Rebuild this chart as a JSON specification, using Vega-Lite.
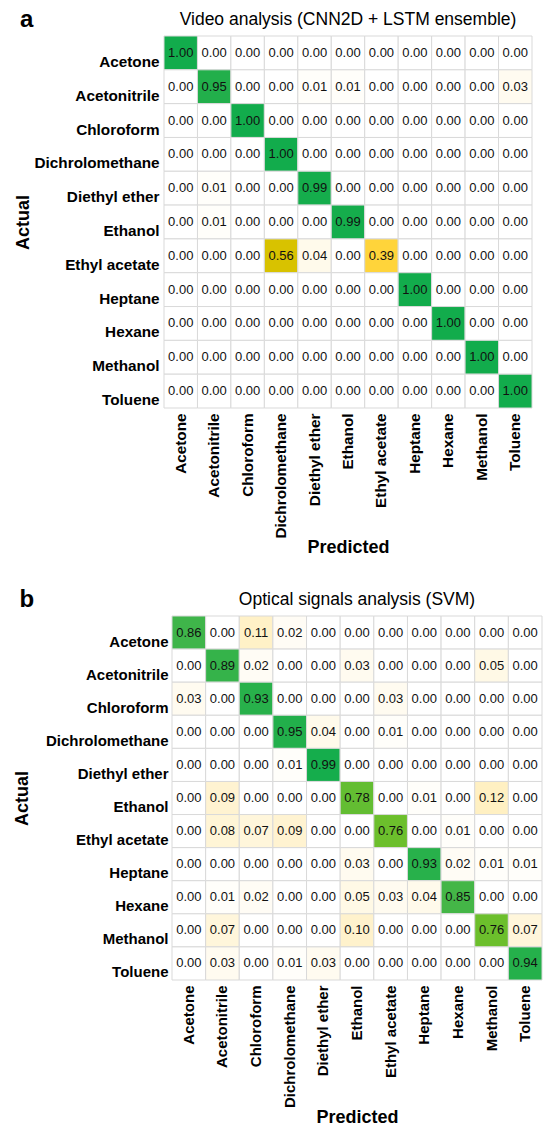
{
  "$schema": "https://vega.github.io/schema/vega-lite/v6.json",
  "background": "white",
  "padding": {"left": 13, "top": 8, "right": 3, "bottom": 2},
  "config": {
    "view": {"stroke": null},
    "font": "Liberation Sans",
    "axis": {"domain": false, "ticks": false, "grid": false, "labelFont": "Liberation Sans", "labelFontWeight": "bold", "labelFontSize": 15.3, "labelColor": "black", "titleFont": "Liberation Sans", "titleFontSize": 18, "titleFontWeight": "bold", "titleColor": "black", "labelPadding": 5},
    "title": {"font": "Liberation Sans", "color": "black"}
  },
  "datasets": {
    "m": [
      {"p":"a","actual":"Acetone","predicted":"Acetone","v":1.00},{"p":"a","actual":"Acetone","predicted":"Acetonitrile","v":0},{"p":"a","actual":"Acetone","predicted":"Chloroform","v":0},{"p":"a","actual":"Acetone","predicted":"Dichrolomethane","v":0},{"p":"a","actual":"Acetone","predicted":"Diethyl ether","v":0},{"p":"a","actual":"Acetone","predicted":"Ethanol","v":0},{"p":"a","actual":"Acetone","predicted":"Ethyl acetate","v":0},{"p":"a","actual":"Acetone","predicted":"Heptane","v":0},{"p":"a","actual":"Acetone","predicted":"Hexane","v":0},{"p":"a","actual":"Acetone","predicted":"Methanol","v":0},{"p":"a","actual":"Acetone","predicted":"Toluene","v":0},
      {"p":"a","actual":"Acetonitrile","predicted":"Acetone","v":0},{"p":"a","actual":"Acetonitrile","predicted":"Acetonitrile","v":0.95},{"p":"a","actual":"Acetonitrile","predicted":"Chloroform","v":0},{"p":"a","actual":"Acetonitrile","predicted":"Dichrolomethane","v":0},{"p":"a","actual":"Acetonitrile","predicted":"Diethyl ether","v":0.01},{"p":"a","actual":"Acetonitrile","predicted":"Ethanol","v":0.01},{"p":"a","actual":"Acetonitrile","predicted":"Ethyl acetate","v":0},{"p":"a","actual":"Acetonitrile","predicted":"Heptane","v":0},{"p":"a","actual":"Acetonitrile","predicted":"Hexane","v":0},{"p":"a","actual":"Acetonitrile","predicted":"Methanol","v":0},{"p":"a","actual":"Acetonitrile","predicted":"Toluene","v":0.03},
      {"p":"a","actual":"Chloroform","predicted":"Acetone","v":0},{"p":"a","actual":"Chloroform","predicted":"Acetonitrile","v":0},{"p":"a","actual":"Chloroform","predicted":"Chloroform","v":1.00},{"p":"a","actual":"Chloroform","predicted":"Dichrolomethane","v":0},{"p":"a","actual":"Chloroform","predicted":"Diethyl ether","v":0},{"p":"a","actual":"Chloroform","predicted":"Ethanol","v":0},{"p":"a","actual":"Chloroform","predicted":"Ethyl acetate","v":0},{"p":"a","actual":"Chloroform","predicted":"Heptane","v":0},{"p":"a","actual":"Chloroform","predicted":"Hexane","v":0},{"p":"a","actual":"Chloroform","predicted":"Methanol","v":0},{"p":"a","actual":"Chloroform","predicted":"Toluene","v":0},
      {"p":"a","actual":"Dichrolomethane","predicted":"Acetone","v":0},{"p":"a","actual":"Dichrolomethane","predicted":"Acetonitrile","v":0},{"p":"a","actual":"Dichrolomethane","predicted":"Chloroform","v":0},{"p":"a","actual":"Dichrolomethane","predicted":"Dichrolomethane","v":1.00},{"p":"a","actual":"Dichrolomethane","predicted":"Diethyl ether","v":0},{"p":"a","actual":"Dichrolomethane","predicted":"Ethanol","v":0},{"p":"a","actual":"Dichrolomethane","predicted":"Ethyl acetate","v":0},{"p":"a","actual":"Dichrolomethane","predicted":"Heptane","v":0},{"p":"a","actual":"Dichrolomethane","predicted":"Hexane","v":0},{"p":"a","actual":"Dichrolomethane","predicted":"Methanol","v":0},{"p":"a","actual":"Dichrolomethane","predicted":"Toluene","v":0},
      {"p":"a","actual":"Diethyl ether","predicted":"Acetone","v":0},{"p":"a","actual":"Diethyl ether","predicted":"Acetonitrile","v":0.01},{"p":"a","actual":"Diethyl ether","predicted":"Chloroform","v":0},{"p":"a","actual":"Diethyl ether","predicted":"Dichrolomethane","v":0},{"p":"a","actual":"Diethyl ether","predicted":"Diethyl ether","v":0.99},{"p":"a","actual":"Diethyl ether","predicted":"Ethanol","v":0},{"p":"a","actual":"Diethyl ether","predicted":"Ethyl acetate","v":0},{"p":"a","actual":"Diethyl ether","predicted":"Heptane","v":0},{"p":"a","actual":"Diethyl ether","predicted":"Hexane","v":0},{"p":"a","actual":"Diethyl ether","predicted":"Methanol","v":0},{"p":"a","actual":"Diethyl ether","predicted":"Toluene","v":0},
      {"p":"a","actual":"Ethanol","predicted":"Acetone","v":0},{"p":"a","actual":"Ethanol","predicted":"Acetonitrile","v":0.01},{"p":"a","actual":"Ethanol","predicted":"Chloroform","v":0},{"p":"a","actual":"Ethanol","predicted":"Dichrolomethane","v":0},{"p":"a","actual":"Ethanol","predicted":"Diethyl ether","v":0},{"p":"a","actual":"Ethanol","predicted":"Ethanol","v":0.99},{"p":"a","actual":"Ethanol","predicted":"Ethyl acetate","v":0},{"p":"a","actual":"Ethanol","predicted":"Heptane","v":0},{"p":"a","actual":"Ethanol","predicted":"Hexane","v":0},{"p":"a","actual":"Ethanol","predicted":"Methanol","v":0},{"p":"a","actual":"Ethanol","predicted":"Toluene","v":0},
      {"p":"a","actual":"Ethyl acetate","predicted":"Acetone","v":0},{"p":"a","actual":"Ethyl acetate","predicted":"Acetonitrile","v":0},{"p":"a","actual":"Ethyl acetate","predicted":"Chloroform","v":0},{"p":"a","actual":"Ethyl acetate","predicted":"Dichrolomethane","v":0.56},{"p":"a","actual":"Ethyl acetate","predicted":"Diethyl ether","v":0.04},{"p":"a","actual":"Ethyl acetate","predicted":"Ethanol","v":0},{"p":"a","actual":"Ethyl acetate","predicted":"Ethyl acetate","v":0.39},{"p":"a","actual":"Ethyl acetate","predicted":"Heptane","v":0},{"p":"a","actual":"Ethyl acetate","predicted":"Hexane","v":0},{"p":"a","actual":"Ethyl acetate","predicted":"Methanol","v":0},{"p":"a","actual":"Ethyl acetate","predicted":"Toluene","v":0},
      {"p":"a","actual":"Heptane","predicted":"Acetone","v":0},{"p":"a","actual":"Heptane","predicted":"Acetonitrile","v":0},{"p":"a","actual":"Heptane","predicted":"Chloroform","v":0},{"p":"a","actual":"Heptane","predicted":"Dichrolomethane","v":0},{"p":"a","actual":"Heptane","predicted":"Diethyl ether","v":0},{"p":"a","actual":"Heptane","predicted":"Ethanol","v":0},{"p":"a","actual":"Heptane","predicted":"Ethyl acetate","v":0},{"p":"a","actual":"Heptane","predicted":"Heptane","v":1.00},{"p":"a","actual":"Heptane","predicted":"Hexane","v":0},{"p":"a","actual":"Heptane","predicted":"Methanol","v":0},{"p":"a","actual":"Heptane","predicted":"Toluene","v":0},
      {"p":"a","actual":"Hexane","predicted":"Acetone","v":0},{"p":"a","actual":"Hexane","predicted":"Acetonitrile","v":0},{"p":"a","actual":"Hexane","predicted":"Chloroform","v":0},{"p":"a","actual":"Hexane","predicted":"Dichrolomethane","v":0},{"p":"a","actual":"Hexane","predicted":"Diethyl ether","v":0},{"p":"a","actual":"Hexane","predicted":"Ethanol","v":0},{"p":"a","actual":"Hexane","predicted":"Ethyl acetate","v":0},{"p":"a","actual":"Hexane","predicted":"Heptane","v":0},{"p":"a","actual":"Hexane","predicted":"Hexane","v":1.00},{"p":"a","actual":"Hexane","predicted":"Methanol","v":0},{"p":"a","actual":"Hexane","predicted":"Toluene","v":0},
      {"p":"a","actual":"Methanol","predicted":"Acetone","v":0},{"p":"a","actual":"Methanol","predicted":"Acetonitrile","v":0},{"p":"a","actual":"Methanol","predicted":"Chloroform","v":0},{"p":"a","actual":"Methanol","predicted":"Dichrolomethane","v":0},{"p":"a","actual":"Methanol","predicted":"Diethyl ether","v":0},{"p":"a","actual":"Methanol","predicted":"Ethanol","v":0},{"p":"a","actual":"Methanol","predicted":"Ethyl acetate","v":0},{"p":"a","actual":"Methanol","predicted":"Heptane","v":0},{"p":"a","actual":"Methanol","predicted":"Hexane","v":0},{"p":"a","actual":"Methanol","predicted":"Methanol","v":1.00},{"p":"a","actual":"Methanol","predicted":"Toluene","v":0},
      {"p":"a","actual":"Toluene","predicted":"Acetone","v":0},{"p":"a","actual":"Toluene","predicted":"Acetonitrile","v":0},{"p":"a","actual":"Toluene","predicted":"Chloroform","v":0},{"p":"a","actual":"Toluene","predicted":"Dichrolomethane","v":0},{"p":"a","actual":"Toluene","predicted":"Diethyl ether","v":0},{"p":"a","actual":"Toluene","predicted":"Ethanol","v":0},{"p":"a","actual":"Toluene","predicted":"Ethyl acetate","v":0},{"p":"a","actual":"Toluene","predicted":"Heptane","v":0},{"p":"a","actual":"Toluene","predicted":"Hexane","v":0},{"p":"a","actual":"Toluene","predicted":"Methanol","v":0},{"p":"a","actual":"Toluene","predicted":"Toluene","v":1.00},

      {"p":"b","actual":"Acetone","predicted":"Acetone","v":0.86},{"p":"b","actual":"Acetone","predicted":"Acetonitrile","v":0},{"p":"b","actual":"Acetone","predicted":"Chloroform","v":0.11},{"p":"b","actual":"Acetone","predicted":"Dichrolomethane","v":0.02},{"p":"b","actual":"Acetone","predicted":"Diethyl ether","v":0},{"p":"b","actual":"Acetone","predicted":"Ethanol","v":0},{"p":"b","actual":"Acetone","predicted":"Ethyl acetate","v":0},{"p":"b","actual":"Acetone","predicted":"Heptane","v":0},{"p":"b","actual":"Acetone","predicted":"Hexane","v":0},{"p":"b","actual":"Acetone","predicted":"Methanol","v":0},{"p":"b","actual":"Acetone","predicted":"Toluene","v":0},
      {"p":"b","actual":"Acetonitrile","predicted":"Acetone","v":0},{"p":"b","actual":"Acetonitrile","predicted":"Acetonitrile","v":0.89},{"p":"b","actual":"Acetonitrile","predicted":"Chloroform","v":0.02},{"p":"b","actual":"Acetonitrile","predicted":"Dichrolomethane","v":0},{"p":"b","actual":"Acetonitrile","predicted":"Diethyl ether","v":0},{"p":"b","actual":"Acetonitrile","predicted":"Ethanol","v":0.03},{"p":"b","actual":"Acetonitrile","predicted":"Ethyl acetate","v":0},{"p":"b","actual":"Acetonitrile","predicted":"Heptane","v":0},{"p":"b","actual":"Acetonitrile","predicted":"Hexane","v":0},{"p":"b","actual":"Acetonitrile","predicted":"Methanol","v":0.05},{"p":"b","actual":"Acetonitrile","predicted":"Toluene","v":0},
      {"p":"b","actual":"Chloroform","predicted":"Acetone","v":0.03},{"p":"b","actual":"Chloroform","predicted":"Acetonitrile","v":0},{"p":"b","actual":"Chloroform","predicted":"Chloroform","v":0.93},{"p":"b","actual":"Chloroform","predicted":"Dichrolomethane","v":0},{"p":"b","actual":"Chloroform","predicted":"Diethyl ether","v":0},{"p":"b","actual":"Chloroform","predicted":"Ethanol","v":0},{"p":"b","actual":"Chloroform","predicted":"Ethyl acetate","v":0.03},{"p":"b","actual":"Chloroform","predicted":"Heptane","v":0},{"p":"b","actual":"Chloroform","predicted":"Hexane","v":0},{"p":"b","actual":"Chloroform","predicted":"Methanol","v":0},{"p":"b","actual":"Chloroform","predicted":"Toluene","v":0},
      {"p":"b","actual":"Dichrolomethane","predicted":"Acetone","v":0},{"p":"b","actual":"Dichrolomethane","predicted":"Acetonitrile","v":0},{"p":"b","actual":"Dichrolomethane","predicted":"Chloroform","v":0},{"p":"b","actual":"Dichrolomethane","predicted":"Dichrolomethane","v":0.95},{"p":"b","actual":"Dichrolomethane","predicted":"Diethyl ether","v":0.04},{"p":"b","actual":"Dichrolomethane","predicted":"Ethanol","v":0},{"p":"b","actual":"Dichrolomethane","predicted":"Ethyl acetate","v":0.01},{"p":"b","actual":"Dichrolomethane","predicted":"Heptane","v":0},{"p":"b","actual":"Dichrolomethane","predicted":"Hexane","v":0},{"p":"b","actual":"Dichrolomethane","predicted":"Methanol","v":0},{"p":"b","actual":"Dichrolomethane","predicted":"Toluene","v":0},
      {"p":"b","actual":"Diethyl ether","predicted":"Acetone","v":0},{"p":"b","actual":"Diethyl ether","predicted":"Acetonitrile","v":0},{"p":"b","actual":"Diethyl ether","predicted":"Chloroform","v":0},{"p":"b","actual":"Diethyl ether","predicted":"Dichrolomethane","v":0.01},{"p":"b","actual":"Diethyl ether","predicted":"Diethyl ether","v":0.99},{"p":"b","actual":"Diethyl ether","predicted":"Ethanol","v":0},{"p":"b","actual":"Diethyl ether","predicted":"Ethyl acetate","v":0},{"p":"b","actual":"Diethyl ether","predicted":"Heptane","v":0},{"p":"b","actual":"Diethyl ether","predicted":"Hexane","v":0},{"p":"b","actual":"Diethyl ether","predicted":"Methanol","v":0},{"p":"b","actual":"Diethyl ether","predicted":"Toluene","v":0},
      {"p":"b","actual":"Ethanol","predicted":"Acetone","v":0},{"p":"b","actual":"Ethanol","predicted":"Acetonitrile","v":0.09},{"p":"b","actual":"Ethanol","predicted":"Chloroform","v":0},{"p":"b","actual":"Ethanol","predicted":"Dichrolomethane","v":0},{"p":"b","actual":"Ethanol","predicted":"Diethyl ether","v":0},{"p":"b","actual":"Ethanol","predicted":"Ethanol","v":0.78},{"p":"b","actual":"Ethanol","predicted":"Ethyl acetate","v":0},{"p":"b","actual":"Ethanol","predicted":"Heptane","v":0.01},{"p":"b","actual":"Ethanol","predicted":"Hexane","v":0},{"p":"b","actual":"Ethanol","predicted":"Methanol","v":0.12},{"p":"b","actual":"Ethanol","predicted":"Toluene","v":0},
      {"p":"b","actual":"Ethyl acetate","predicted":"Acetone","v":0},{"p":"b","actual":"Ethyl acetate","predicted":"Acetonitrile","v":0.08},{"p":"b","actual":"Ethyl acetate","predicted":"Chloroform","v":0.07},{"p":"b","actual":"Ethyl acetate","predicted":"Dichrolomethane","v":0.09},{"p":"b","actual":"Ethyl acetate","predicted":"Diethyl ether","v":0},{"p":"b","actual":"Ethyl acetate","predicted":"Ethanol","v":0},{"p":"b","actual":"Ethyl acetate","predicted":"Ethyl acetate","v":0.76},{"p":"b","actual":"Ethyl acetate","predicted":"Heptane","v":0},{"p":"b","actual":"Ethyl acetate","predicted":"Hexane","v":0.01},{"p":"b","actual":"Ethyl acetate","predicted":"Methanol","v":0},{"p":"b","actual":"Ethyl acetate","predicted":"Toluene","v":0},
      {"p":"b","actual":"Heptane","predicted":"Acetone","v":0},{"p":"b","actual":"Heptane","predicted":"Acetonitrile","v":0},{"p":"b","actual":"Heptane","predicted":"Chloroform","v":0},{"p":"b","actual":"Heptane","predicted":"Dichrolomethane","v":0},{"p":"b","actual":"Heptane","predicted":"Diethyl ether","v":0},{"p":"b","actual":"Heptane","predicted":"Ethanol","v":0.03},{"p":"b","actual":"Heptane","predicted":"Ethyl acetate","v":0},{"p":"b","actual":"Heptane","predicted":"Heptane","v":0.93},{"p":"b","actual":"Heptane","predicted":"Hexane","v":0.02},{"p":"b","actual":"Heptane","predicted":"Methanol","v":0.01},{"p":"b","actual":"Heptane","predicted":"Toluene","v":0.01},
      {"p":"b","actual":"Hexane","predicted":"Acetone","v":0},{"p":"b","actual":"Hexane","predicted":"Acetonitrile","v":0.01},{"p":"b","actual":"Hexane","predicted":"Chloroform","v":0.02},{"p":"b","actual":"Hexane","predicted":"Dichrolomethane","v":0},{"p":"b","actual":"Hexane","predicted":"Diethyl ether","v":0},{"p":"b","actual":"Hexane","predicted":"Ethanol","v":0.05},{"p":"b","actual":"Hexane","predicted":"Ethyl acetate","v":0.03},{"p":"b","actual":"Hexane","predicted":"Heptane","v":0.04},{"p":"b","actual":"Hexane","predicted":"Hexane","v":0.85},{"p":"b","actual":"Hexane","predicted":"Methanol","v":0},{"p":"b","actual":"Hexane","predicted":"Toluene","v":0},
      {"p":"b","actual":"Methanol","predicted":"Acetone","v":0},{"p":"b","actual":"Methanol","predicted":"Acetonitrile","v":0.07},{"p":"b","actual":"Methanol","predicted":"Chloroform","v":0},{"p":"b","actual":"Methanol","predicted":"Dichrolomethane","v":0},{"p":"b","actual":"Methanol","predicted":"Diethyl ether","v":0},{"p":"b","actual":"Methanol","predicted":"Ethanol","v":0.10},{"p":"b","actual":"Methanol","predicted":"Ethyl acetate","v":0},{"p":"b","actual":"Methanol","predicted":"Heptane","v":0},{"p":"b","actual":"Methanol","predicted":"Hexane","v":0},{"p":"b","actual":"Methanol","predicted":"Methanol","v":0.76},{"p":"b","actual":"Methanol","predicted":"Toluene","v":0.07},
      {"p":"b","actual":"Toluene","predicted":"Acetone","v":0},{"p":"b","actual":"Toluene","predicted":"Acetonitrile","v":0.03},{"p":"b","actual":"Toluene","predicted":"Chloroform","v":0},{"p":"b","actual":"Toluene","predicted":"Dichrolomethane","v":0.01},{"p":"b","actual":"Toluene","predicted":"Diethyl ether","v":0.03},{"p":"b","actual":"Toluene","predicted":"Ethanol","v":0},{"p":"b","actual":"Toluene","predicted":"Ethyl acetate","v":0},{"p":"b","actual":"Toluene","predicted":"Heptane","v":0},{"p":"b","actual":"Toluene","predicted":"Hexane","v":0},{"p":"b","actual":"Toluene","predicted":"Methanol","v":0},{"p":"b","actual":"Toluene","predicted":"Toluene","v":0.94}
    ]
  },
  "spacing": 31,
  "vconcat": [
    {
      "title": {"text": "a", "anchor": "start", "fontSize": 24, "fontWeight": "bold", "offset": -21, "dx": 6},
      "vconcat": [
        {
          "title": {"text": "Video analysis (CNN2D + LSTM ensemble)", "fontSize": 17.5, "fontWeight": "normal", "anchor": "middle", "offset": 7},
          "width": 368, "height": 372,
          "data": {"name": "m"},
          "transform": [{"filter": "datum.p === 'a'"}],
          "encoding": {
            "x": {"field": "predicted", "type": "nominal", "title": "Predicted", "scale": {"domain": ["Acetone","Acetonitrile","Chloroform","Dichrolomethane","Diethyl ether","Ethanol","Ethyl acetate","Heptane","Hexane","Methanol","Toluene"], "paddingInner": 0, "paddingOuter": 0}, "axis": {"labelAngle": -90, "titlePadding": 1}},
            "y": {"field": "actual", "type": "nominal", "title": "Actual", "scale": {"domain": ["Acetone","Acetonitrile","Chloroform","Dichrolomethane","Diethyl ether","Ethanol","Ethyl acetate","Heptane","Hexane","Methanol","Toluene"], "paddingInner": 0, "paddingOuter": 0}, "axis": {"titlePadding": 2, "labelBaseline": "alphabetic", "labelOffset": 14}}
          },
          "layer": [
            {"mark": {"type": "rect", "stroke": "#d9d9d9", "strokeWidth": 1},
             "encoding": {"color": {"field": "v", "type": "quantitative", "legend": null, "scale": {"domain": [0, 0.1, 0.39, 0.56, 0.76, 0.86, 1], "range": ["#ffffff", "#fff2cc", "#ffd43a", "#d8c200", "#6cbf2c", "#3fb54a", "#12ac4c"], "interpolate": "rgb"}}}},
            {"mark": {"type": "text", "fontSize": 13, "font": "Liberation Sans", "color": "#111"},
             "encoding": {"text": {"field": "v", "type": "quantitative", "format": ".2f"}}}
          ]
        }
      ]
    },
    {
      "title": {"text": "b", "anchor": "start", "fontSize": 24, "fontWeight": "bold", "offset": -21, "dx": 6},
      "vconcat": [
        {
          "title": {"text": "Optical signals analysis (SVM)", "fontSize": 17.5, "fontWeight": "normal", "anchor": "middle", "offset": 7, "dx": 4},
          "width": 378, "height": 364,
          "data": {"name": "m"},
          "transform": [{"filter": "datum.p === 'b'"}],
          "encoding": {
            "x": {"field": "predicted", "type": "nominal", "title": "Predicted", "scale": {"domain": ["Acetone","Acetonitrile","Chloroform","Dichrolomethane","Diethyl ether","Ethanol","Ethyl acetate","Heptane","Hexane","Methanol","Toluene"], "paddingInner": 0, "paddingOuter": 0, "range": [8, 378]}, "axis": {"labelAngle": -90, "titlePadding": 1, "labelFontSize": 15}},
            "y": {"field": "actual", "type": "nominal", "title": "Actual", "scale": {"domain": ["Acetone","Acetonitrile","Chloroform","Dichrolomethane","Diethyl ether","Ethanol","Ethyl acetate","Heptane","Hexane","Methanol","Toluene"], "paddingInner": 0, "paddingOuter": 0}, "axis": {"titlePadding": 14, "labelPadding": -4, "labelFontSize": 15, "labelBaseline": "alphabetic", "labelOffset": 14}}
          },
          "layer": [
            {"mark": {"type": "rect", "stroke": "#d9d9d9", "strokeWidth": 1},
             "encoding": {"color": {"field": "v", "type": "quantitative", "legend": null, "scale": {"domain": [0, 0.1, 0.39, 0.56, 0.76, 0.86, 1], "range": ["#ffffff", "#fff2cc", "#ffd43a", "#d8c200", "#6cbf2c", "#3fb54a", "#12ac4c"], "interpolate": "rgb"}}}},
            {"mark": {"type": "text", "fontSize": 13, "font": "Liberation Sans", "color": "#111"},
             "encoding": {"text": {"field": "v", "type": "quantitative", "format": ".2f"}}}
          ]
        }
      ]
    }
  ]
}
